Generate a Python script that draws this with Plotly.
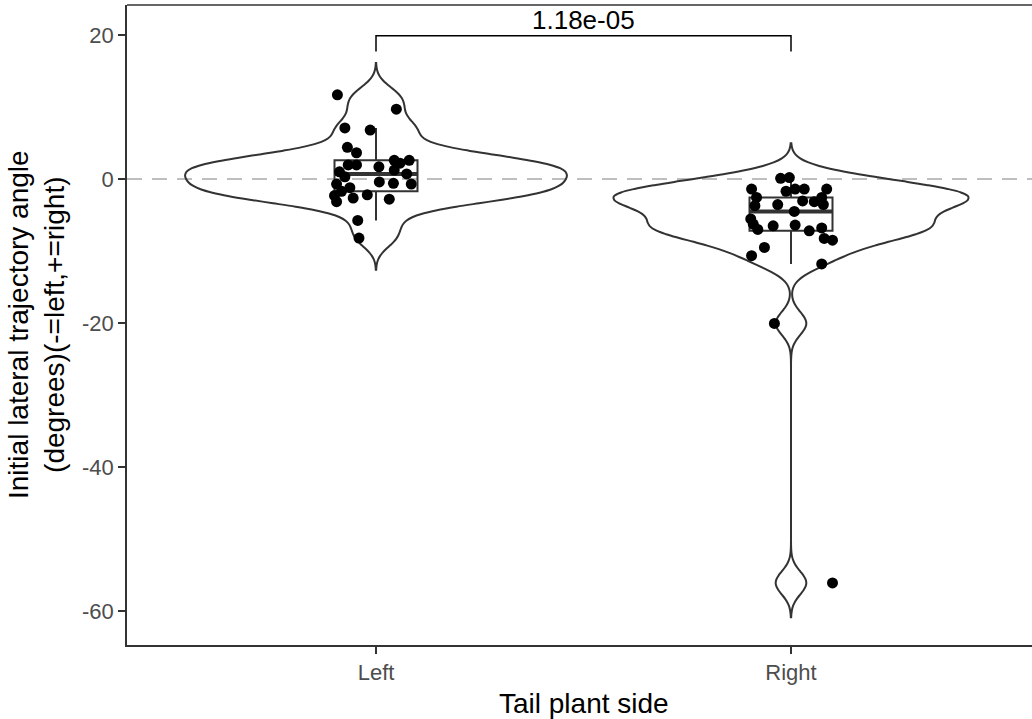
import numpy as np
import plotly.graph_objects as go

# Initial lateral trajectory angle (degrees) per fish, grouped by tail plant side
categories = ["Left", "Right"]
left_vals = [11.7, 9.7, 7.1, 6.8, 4.4, 3.65, 2.6, 2.6, 1.95, 1.95, 1.7, 1.25, 1.0, 0.7,
             -0.4, -0.6, -0.7, -0.7, -1.7, -2.3, -3.15, -2.65, -2.2, -2.8, -5.75, -8.2,
             -1.2, 0.3, 2.2]
left_jitter = [-0.093, 0.049, -0.075, -0.014, -0.069, -0.047, 0.044, 0.080, -0.067, -0.047,
               0.007, 0.044, -0.088, 0.074, 0.008, 0.042, 0.085, -0.095, -0.083, -0.100,
               -0.095, -0.055, -0.021, 0.032, -0.044, -0.041, -0.063, -0.075, 0.058]
right_vals = [0.1, 0.2, -1.4, -1.7, -1.4, -1.4, -1.4, -2.55, -3.7, -3.55, -3.05, -3.15,
              -2.55, -3.55, -4.5, -5.55, -6.25, -7.0, -6.5, -6.4, -7.2, -6.8, -8.25, -8.5,
              -9.5, -10.65, -11.8, -20.05, -56.1]
right_jitter = [-0.025, -0.004, -0.095, -0.012, 0.010, 0.032, 0.086, -0.083, -0.087, -0.032,
                0.028, 0.056, 0.074, 0.078, 0.008, -0.097, -0.091, -0.080, -0.043, 0.010,
                0.044, 0.074, 0.080, 0.100, -0.064, -0.095, 0.074, -0.040, 0.100]
p_value_label = "1.18e-05"
y_ticks = [20, 0, -20, -40, -60]
y_tick_labels = ["20", "0", "-20", "-40", "-60"]

groups = [left_vals, right_vals]
jitters = [left_jitter, right_jitter]
positions = [1, 2]

LINE = "#333333"
VIOLIN_WIDTH = 0.92
BOX_WIDTH = 0.2


def q7(v, p):
    return float(np.quantile(np.asarray(v), p))


def nrd0(v):
    v = np.asarray(v, dtype=float)
    iqr = q7(v, 0.75) - q7(v, 0.25)
    s = min(np.std(v, ddof=1), iqr / 1.34)
    return 0.9 * s * len(v) ** -0.2


def kde_max(v, bw):
    v = np.asarray(v, dtype=float)
    grid = np.linspace(v.min() - 3 * bw, v.max() + 3 * bw, 512)
    d = np.exp(-0.5 * ((grid[:, None] - v[None, :]) / bw) ** 2).sum(axis=1)
    return d.max() / (len(v) * bw * np.sqrt(2 * np.pi))


bws = [nrd0(g) for g in groups]
peaks = [kde_max(g, b) for g, b in zip(groups, bws)]
peak_all = max(peaks)

fig = go.Figure()

# violins, scaled by peak density ("area" scaling)
for g, pos, bw, pk in zip(groups, positions, bws, peaks):
    fig.add_trace(go.Violin(
        x=[pos] * len(g), y=g, bandwidth=bw, spanmode="manual",
        span=[min(g) - 3 * bw, max(g) + 3 * bw],
        scalemode="width", width=VIOLIN_WIDTH * pk / peak_all,
        line=dict(color=LINE, width=2), fillcolor="rgba(0,0,0,0)",
        points=False, box_visible=False, meanline_visible=False,
        showlegend=False, hoverinfo="skip"))

# boxplots (Tukey whiskers, no outlier marks)
for g, pos in zip(groups, positions):
    q1, med, q3 = q7(g, 0.25), q7(g, 0.5), q7(g, 0.75)
    iqr = q3 - q1
    arr = np.asarray(g)
    lf = float(arr[arr >= q1 - 1.5 * iqr].min())
    uf = float(arr[arr <= q3 + 1.5 * iqr].max())
    fig.add_trace(go.Box(
        x=[pos], q1=[q1], median=[med], q3=[q3], lowerfence=[lf], upperfence=[uf],
        width=BOX_WIDTH, whiskerwidth=0, fillcolor="rgba(0,0,0,0)",
        line=dict(color=LINE, width=2), boxpoints=False,
        showlegend=False, hoverinfo="skip"))
    # thicker median bar
    fig.add_trace(go.Scatter(
        x=[pos - BOX_WIDTH / 2, pos + BOX_WIDTH / 2], y=[med, med], mode="lines",
        line=dict(color=LINE, width=4), showlegend=False, hoverinfo="skip"))

# jittered observations
for g, j, pos in zip(groups, jitters, positions):
    fig.add_trace(go.Scatter(
        x=[pos + d for d in j], y=g, mode="markers",
        marker=dict(color="black", size=11, line=dict(width=0)),
        showlegend=False, hoverinfo="skip"))

# significance bracket
bracket_top = 19.9
bracket_tip = 17.7
fig.add_trace(go.Scatter(
    x=[positions[0], positions[0], positions[1], positions[1]],
    y=[bracket_tip, bracket_top, bracket_top, bracket_tip],
    mode="lines", line=dict(color="black", width=1.5),
    showlegend=False, hoverinfo="skip"))
fig.add_annotation(x=(positions[0] + positions[1]) / 2, y=bracket_top, xref="x", yref="y",
                   text=p_value_label, showarrow=False, yanchor="bottom", yshift=-1,
                   font=dict(size=26, color="black", family="Liberation Sans"))

# reference line at zero
fig.add_shape(type="line", xref="paper", x0=0, x1=1, yref="y", y0=0, y1=0,
              line=dict(color="#BEBEBE", width=2, dash="15px,10px"), layer="below")
# top edge of the panel frame
fig.add_shape(type="line", xref="paper", x0=0, x1=1, yref="paper", y0=1, y1=1,
              line=dict(color=LINE, width=1.5), layer="above")

W, H = 1032, 719
ML, MT, MB = 127, 5, 74
px_per_unit = 415
x_lo = 0.4
x_hi = x_lo + (W - ML) / px_per_unit

fig.update_layout(
    width=W, height=H, margin=dict(l=ML, r=0, t=MT, b=MB),
    plot_bgcolor="white", paper_bgcolor="white",
    violinmode="overlay", boxmode="overlay",
    font=dict(family="Liberation Sans", color="#4D4D4D"),
    xaxis=dict(range=[x_lo, x_hi], tickvals=positions, ticktext=categories,
               showgrid=False, zeroline=False, showline=True, mirror=False,
               linecolor=LINE, linewidth=1.5, ticks="outside", ticklen=7,
               tickcolor=LINE, tickwidth=1.5, tickfont=dict(size=22, color="#4D4D4D")),
    yaxis=dict(range=[-64.72, 24.17], tickvals=y_ticks, ticktext=y_tick_labels,
               showgrid=False, zeroline=False, showline=True, mirror=False,
               linecolor=LINE, linewidth=1.5, ticks="outside", ticklen=7,
               tickcolor=LINE, tickwidth=1.5, tickfont=dict(size=22, color="#4D4D4D")),
)

# axis titles
fig.add_annotation(x=1.5, xref="x", y=0, yref="paper", yshift=-58, yanchor="middle",
                   text="Tail plant side", showarrow=False,
                   font=dict(size=28, color="black", family="Liberation Sans"))
fig.add_annotation(x=0, xref="paper", xshift=-91, y=0.5, yref="paper", textangle=-90,
                   xanchor="center", yanchor="middle",
                   text="Initial lateral trajectory angle<br>(degrees)(-=left,+=right)",
                   showarrow=False,
                   font=dict(size=28, color="black", family="Liberation Sans"))

fig.write_html("out.html")
